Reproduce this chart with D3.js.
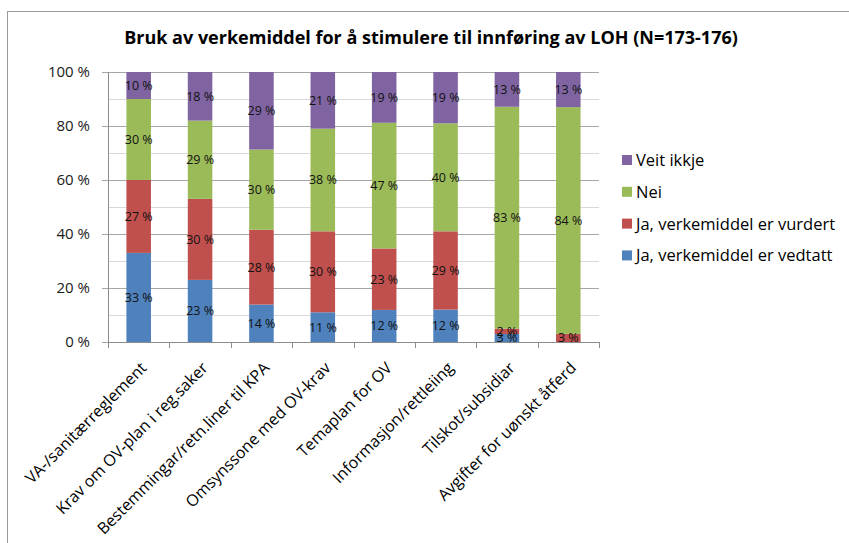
<!DOCTYPE html>
<html>
<head>
<meta charset="utf-8">
<style>
  body { margin: 0; background: #fff; }
  svg { display: block; font-family: "Open Sans", Lato, sans-serif; }
</style>
</head>
<body>
<div class="container"></div>
<script src="https://d3js.org/d3.v7.min.js"></script>
<script>
  var categories = ['VA-/sanitærreglement', 'Krav om OV-plan i reg.saker', 'Bestemmingar/retn.liner til KPA',
                    'Omsynssone med OV-krav', 'Temaplan for OV', 'Informasjon/rettleiing',
                    'Tilskot/subsidiar', 'Avgifter for uønskt åtferd'];
  var seriesNames = ['Ja, verkemiddel er vedtatt', 'Ja, verkemiddel er vurdert', 'Nei', 'Veit ikkje'];
  var vedtatt   = [33, 23, 14, 11, 12, 12, 3, 0];
  var vurdert   = [27, 30, 28, 30, 23, 29, 2, 3];
  var nei       = [30, 29, 30, 38, 47, 40, 83, 84];
  var veitIkkje = [10, 18, 29, 21, 19, 19, 13, 13];
  var yTicks = [0, 20, 40, 60, 80, 100];
  var colors = ['#4f81bd', '#c0504d', '#9bbb59', '#8064a2'];
  var title = 'Bruk av verkemiddel for å stimulere til innføring av LOH (N=173-176)';

  var width = 849, height = 543;
  var plot = { left: 108, top: 72, right: 599, bottom: 342 };

  var rows = categories.map(function(c, i) {
    var r = { cat: c };
    r[seriesNames[0]] = vedtatt[i];
    r[seriesNames[1]] = vurdert[i];
    r[seriesNames[2]] = nei[i];
    r[seriesNames[3]] = veitIkkje[i];
    return r;
  });

  // excel's 100% stacked columns: every column scaled to the full height
  var stacked = d3.stack().keys(seriesNames).offset(d3.stackOffsetExpand)(rows);

  var svg = d3.select('.container').append('svg')
      .attr('width', width)
      .attr('height', height);

  // chart frame (cropped on right and bottom like the original)
  svg.append('rect')
      .attr('x', 7.5).attr('y', 11.5)
      .attr('width', 1000).attr('height', 1000)
      .attr('fill', '#fff')
      .attr('stroke', '#9a9a9a');

  svg.append('text')
      .attr('x', 431).attr('y', 44)
      .attr('text-anchor', 'middle')
      .attr('font-size', 18)
      .attr('font-weight', 'bold')
      .attr('fill', '#000')
      .text(title);

  var x = d3.scaleBand().domain(categories).range([plot.left, plot.right]).paddingInner(0.6).paddingOuter(0.3);
  var xOuter = d3.scaleBand().domain(categories).range([plot.left, plot.right]);
  var y = d3.scaleLinear().domain([0, 1]).range([plot.bottom, plot.top]);

  // minor gridlines
  svg.append('g')
    .selectAll('line')
    .data(d3.range(0.1, 1, 0.2))
    .join('line')
      .attr('x1', plot.left).attr('x2', plot.right)
      .attr('y1', function(d) { return Math.round(y(d)) + 0.5; })
      .attr('y2', function(d) { return Math.round(y(d)) + 0.5; })
      .attr('stroke', '#d9d9d9');

  // y axis with major gridlines
  var yAxis = svg.append('g')
      .attr('transform', 'translate(' + plot.left + ',0)')
      .call(d3.axisLeft(y)
        .tickValues(yTicks.map(function(t) { return t / 100; }))
        .tickSize(-(plot.right - plot.left))
        .tickFormat(function(d) { return Math.round(d * 100) + ' %'; }));
  yAxis.select('.domain').remove();
  yAxis.selectAll('line')
      .attr('x1', -6)
      .attr('stroke', '#a6a6a6');
  yAxis.selectAll('text')
      .attr('x', -18)
      .attr('font-size', 15)
      .attr('fill', '#1a1a1a')
      .attr('font-family', '"Open Sans", sans-serif');

  svg.append('line')
      .attr('x1', plot.left + 0.5).attr('x2', plot.left + 0.5)
      .attr('y1', plot.top).attr('y2', plot.bottom)
      .attr('stroke', '#8c8c8c');

  // bars
  var layer = svg.append('g').selectAll('g')
    .data(stacked)
    .join('g')
      .attr('fill', function(d, i) { return colors[i]; });

  layer.selectAll('rect')
    .data(function(d) { return d; })
    .join('rect')
      .attr('x', function(d) { return x(d.data.cat); })
      .attr('width', x.bandwidth())
      .attr('y', function(d) { return y(d[1]); })
      .attr('height', function(d) { return y(d[0]) - y(d[1]); });

  // data labels
  var labels = svg.append('g');
  stacked.forEach(function(s) {
    labels.selectAll(null)
      .data(s.filter(function(d) { return d.data[s.key] > 0; }))
      .join('text')
        .attr('x', function(d) { return x(d.data.cat) + x.bandwidth() / 2; })
        .attr('y', function(d) { return y((d[0] + d[1]) / 2); })
        .attr('dy', '0.35em')
        .attr('text-anchor', 'middle')
        .attr('font-size', 12.5)
        .attr('fill', '#111')
        .text(function(d) { return d.data[s.key] + ' %'; });
  });

  // x axis
  var xAxis = svg.append('g')
      .attr('transform', 'translate(0,' + plot.bottom + ')');
  xAxis.append('line')
      .attr('x1', plot.left).attr('x2', plot.right)
      .attr('y1', 0.5).attr('y2', 0.5)
      .attr('stroke', '#8c8c8c');
  xAxis.selectAll('.tick')
    .data(categories.concat(['end']))
    .join('line')
      .attr('x1', function(d, i) { return Math.round(plot.left + i * xOuter.step()) + 0.5; })
      .attr('x2', function(d, i) { return Math.round(plot.left + i * xOuter.step()) + 0.5; })
      .attr('y1', 0).attr('y2', 6)
      .attr('stroke', '#8c8c8c');
  xAxis.selectAll('text')
    .data(categories)
    .join('text')
      .attr('transform', function(d) {
        return 'translate(' + (xOuter(d) + xOuter.bandwidth() / 2 + 1) + ',19) rotate(-45)';
      })
      .attr('dy', '0.7em')
      .attr('text-anchor', 'end')
      .attr('font-size', 16)
      .attr('fill', '#000')
      .text(function(d) { return d; });

  // legend
  var legend = svg.append('g')
    .selectAll('g')
    .data(seriesNames.slice().reverse())
    .join('g')
      .attr('transform', function(d, i) { return 'translate(622,' + (160 + i * 31.8) + ')'; });
  legend.append('rect')
      .attr('x', 0).attr('y', -5)
      .attr('width', 10).attr('height', 10)
      .attr('fill', function(d) { return colors[seriesNames.indexOf(d)]; });
  legend.append('text')
      .attr('x', 14)
      .attr('dy', '0.36em')
      .attr('font-size', 16.5)
      .attr('fill', '#000')
      .text(function(d) { return d; });
</script>
</body>
</html>
